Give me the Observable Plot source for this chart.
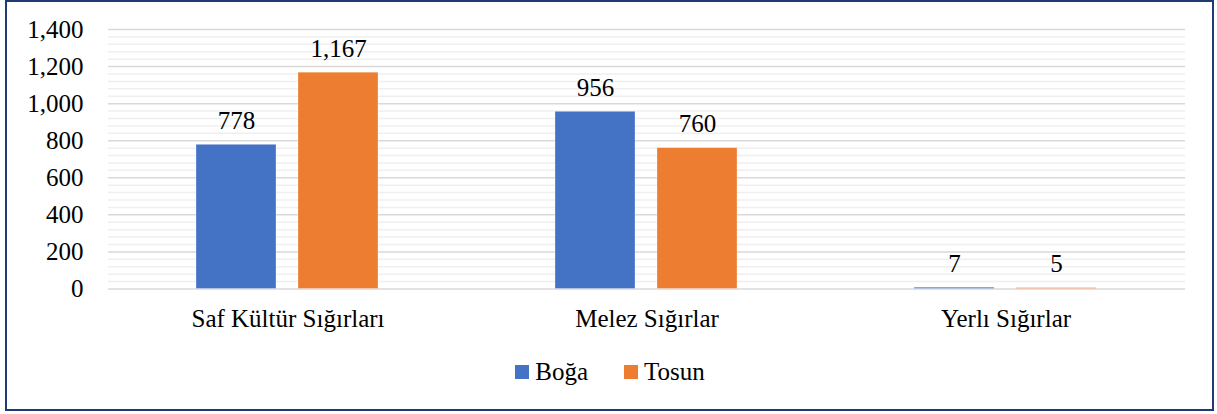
<!DOCTYPE html>
<html><head><meta charset="utf-8">
<script src="https://cdn.jsdelivr.net/npm/d3@7"></script>
<script src="https://cdn.jsdelivr.net/npm/@observablehq/plot@0.6"></script>
<style>body{margin:0;font-size:25px}</style></head>
<body>
<div id="wrap" style="position:relative;width:1217px;height:414px;font-family:'Liberation Serif'">
<div id="chart" style="position:absolute;left:0;top:0"></div>
<div id="legend" style="position:absolute;left:6px;top:358px;width:1208px;text-align:center;font-family:'Liberation Serif';font-size:25px;color:#000"></div>
<div id="frame" style="position:absolute;left:5px;top:0;width:1205px;height:407px;border:2px solid #1f3a75"></div>
</div>
<script>
const categories = ["Saf Kültür Sığırları", "Melez Sığırlar", "Yerlı Sığırlar"];
const series = ["Boğa", "Tosun"];
const bogaValues = [778, 956, 7];
const tosunValues = [1167, 760, 5];
const colors = ["#4472C4", "#ED7D31"];
const yTicks = [0, 200, 400, 600, 800, 1000, 1200, 1400];
const minorTicks = [40, 80, 120, 160, 240, 280, 320, 360, 440, 480, 520, 560, 640, 680, 720, 760, 840, 880, 920, 960, 1040, 1080, 1120, 1160, 1240, 1280, 1320, 1360];

const data = [];
categories.forEach((c, i) => {
  data.push({category: c, series: series[0], value: bogaValues[i]});
  data.push({category: c, series: series[1], value: tosunValues[i]});
});
const fmt = d3.format(",");

const chart = Plot.plot({
  width: 1217,
  height: 345,
  marginLeft: 107,
  marginRight: 32,
  marginTop: 29,
  marginBottom: 56.5,
  style: {fontFamily: "Liberation Serif", fontSize: "25px", color: "#000", background: "transparent", overflow: "visible"},
  fx: {domain: categories, padding: 0, label: null, tickSize: 0, tickPadding: 20},
  x: {domain: series, axis: null, paddingInner: 0.2136, paddingOuter: 0.85},
  y: {domain: [0, 1400], ticks: yTicks, tickFormat: fmt, tickSize: 0, tickPadding: 25, label: null},
  color: {domain: series, range: colors},
  marks: [
    Plot.ruleY(minorTicks, {stroke: "#efefef", strokeWidth: 1.5}),
    Plot.ruleY(yTicks, {stroke: "#d9d9d9", strokeWidth: 1.5}),
    Plot.barY(data, {fx: "category", x: "series", y: "value", fill: "series", stroke: "#fff", strokeOpacity: 0.4, strokeWidth: 0.75}),
    Plot.text(data, {fx: "category", x: "series", y: "value", text: d => fmt(d.value), dy: -16, lineAnchor: "bottom", fontSize: 25, fill: "#000"})
  ]
});
document.getElementById("chart").appendChild(chart);

const legend = document.getElementById("legend");
series.forEach((s, i) => {
  const item = document.createElement("span");
  item.style.cssText = "display:inline-block;margin:0 18px;";
  const sw = document.createElement("span");
  sw.style.cssText = "display:inline-block;width:14px;height:14px;margin-right:6px;vertical-align:1px;background:" + colors[i];
  item.appendChild(sw);
  item.appendChild(document.createTextNode(s));
  legend.appendChild(item);
});
</script>
</body></html>
